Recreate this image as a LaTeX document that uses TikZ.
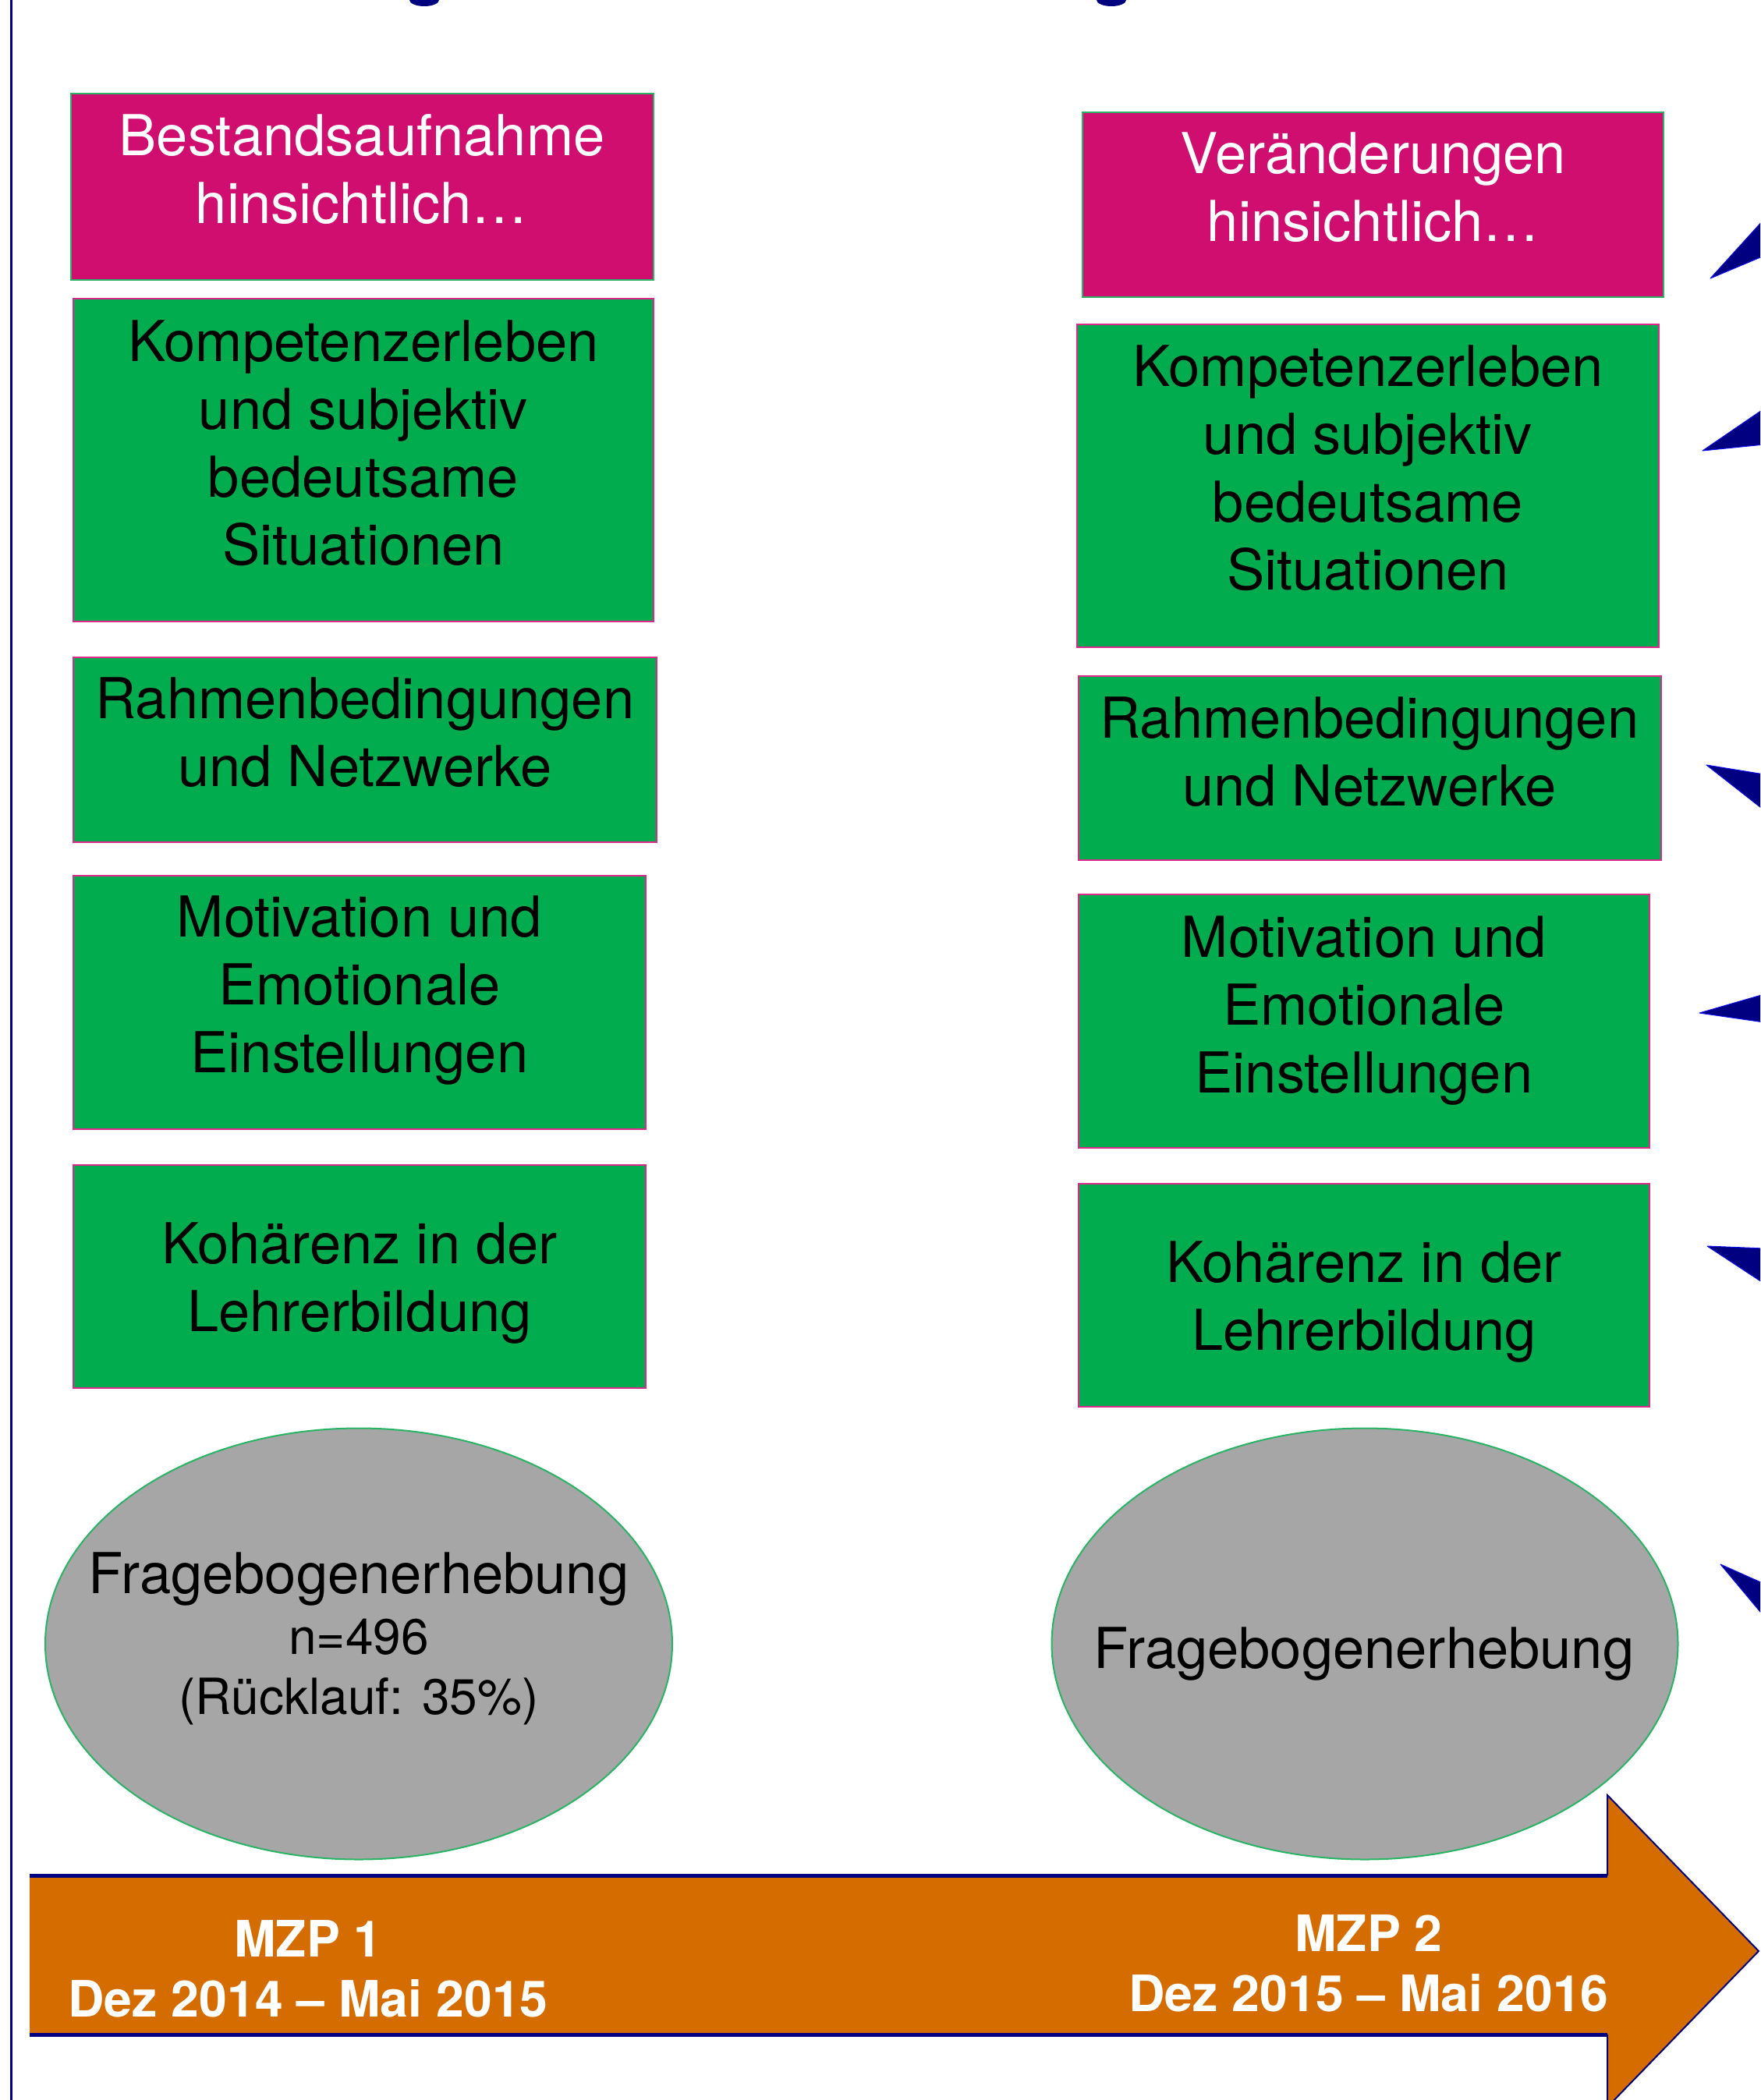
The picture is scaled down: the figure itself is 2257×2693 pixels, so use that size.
\documentclass[tikz,border=0pt]{standalone}
\usepackage{fontspec}
\setmainfont{TeX Gyre Heros}
\usetikzlibrary{fit,shapes.geometric}

\definecolor{boxmagenta}{RGB}{207,14,111}
\definecolor{boxgreen}{RGB}{0,172,78}
\definecolor{ovalgray}{RGB}{166,166,166}
\definecolor{timeorange}{RGB}{212,108,0}
\definecolor{darknavy}{RGB}{0,0,128}
\definecolor{brightblue}{RGB}{10,10,240}
\definecolor{edgegreen}{RGB}{40,180,100}
\definecolor{edgepink}{RGB}{220,40,140}

\begin{document}
\begin{tikzpicture}[x=0.3pt,y=-0.3pt,
  magbox/.style={fill=boxmagenta,draw=edgegreen,line width=0.6pt,inner sep=0pt},
  grnbox/.style={fill=boxgreen,draw=edgepink,line width=0.6pt,inner sep=0pt},
  oval/.style={ellipse,fill=ovalgray,draw=edgegreen,line width=0.6pt,inner sep=0pt},
  boxtext/.style={align=center,inner sep=0pt,font=\fontsize{21.7}{26.1}\selectfont},
  smalltext/.style={align=center,inner sep=0pt,font=\fontsize{19.2}{23.1}\selectfont},
  mzptext/.style={align=center,inner sep=0pt,text=white,font=\bfseries\fontsize{19.3}{23.1}\selectfont},
  wedge/.style={fill=darknavy,draw=brightblue,line width=0.3pt,line join=round}]
  \useasboundingbox (0,0) rectangle (2257,2693);
  \clip (0,0) rectangle (2257,2693);

  % cut-off title and page edge
  \fill[darknavy] (544,0) ellipse [x radius=19, y radius=8];
  \fill[darknavy] (1425,0) ellipse [x radius=19, y radius=8];
  \draw[darknavy,line width=0.9pt] (14,0) -- (14,2693);

  % timeline arrow
  \fill[timeorange] (38,2405) -- (2061,2405) -- (2061,2302) -- (2255,2502)
    -- (2061,2702) -- (2061,2609) -- (38,2609) -- cycle;
  \draw[darknavy,line width=1.5pt] (38,2405) -- (2061,2405);
  \draw[darknavy,line width=1.5pt] (38,2609) -- (2061,2609);
  \draw[darknavy,line width=0.6pt] (2061,2405) -- (2061,2302) -- (2255,2502)
    -- (2061,2702) -- (2061,2609);
  \node[mzptext] (mzp1) at (395,2486) {MZP 1};
  \node[mzptext] (zeit1) at (395,2563) {Dez 2014 – Mai 2015};
  \node[mzptext] (mzp2) at (1755,2479) {MZP 2};
  \node[mzptext] (zeit2) at (1755,2556) {Dez 2015 – Mai 2016};

  % left column: MZP 1
  \node[magbox,fit={(91,120) (838,359)}] (lmag) {};
  \node[boxtext,text=white] (lmagt) at (464,217) {Bestandsaufnahme\\hinsichtlich…};
  \node[grnbox,fit={(94,383) (838,797)}] (lkomp) {};
  \node[boxtext] (lkompt) at (466,568) {Kompetenzerleben\\und subjektiv\\bedeutsame\\Situationen};
  \node[grnbox,fit={(94,843) (842,1080)}] (lrahm) {};
  \node[boxtext] (lrahmt) at (468,939) {Rahmenbedingungen\\und Netzwerke};
  \node[grnbox,fit={(94,1123) (828,1448)}] (lmot) {};
  \node[boxtext] (lmott) at (461,1270) {Motivation und\\Emotionale\\Einstellungen};
  \node[grnbox,fit={(94,1494) (828,1780)}] (lkoh) {};
  \node[boxtext] (lkoht) at (461,1645) {Kohärenz in der\\Lehrerbildung};
  \node[oval,minimum width=241.2pt,minimum height=165.9pt] (lfrage) at (460,2108) {};
  \node[boxtext] (lfraget) at (460,2025) {Fragebogenerhebung};
  \node[smalltext] (lfragen) at (460,2144) {n=496\\(Rücklauf: 35\%)};

  % right column: MZP 2
  \node[magbox,fit={(1388,144) (2133,381)}] (rmag) {};
  \node[boxtext,text=white] (rmagt) at (1761,240) {Veränderungen\\hinsichtlich…};
  \node[grnbox,fit={(1381,416) (2127,830)}] (rkomp) {};
  \node[boxtext] (rkompt) at (1754,600) {Kompetenzerleben\\und subjektiv\\bedeutsame\\Situationen};
  \node[grnbox,fit={(1383,867) (2130,1103)}] (rrahm) {};
  \node[boxtext] (rrahmt) at (1756,964) {Rahmenbedingungen\\und Netzwerke};
  \node[grnbox,fit={(1383,1147) (2115,1472)}] (rmot) {};
  \node[boxtext] (rmott) at (1749,1296) {Motivation und\\Emotionale\\Einstellungen};
  \node[grnbox,fit={(1383,1518) (2115,1804)}] (rkoh) {};
  \node[boxtext] (rkoht) at (1749,1669) {Kohärenz in der\\Lehrerbildung};
  \node[oval,minimum width=240.9pt,minimum height=165.9pt] (rfrage) at (1750,2108) {};
  \node[boxtext] (rfraget) at (1749,2121) {Fragebogenerhebung};

  % arrow tips coming in from the right
  \fill[wedge] (2193,357) -- (2262,281) -- (2262,328) -- cycle;
  \fill[wedge] (2183,578) -- (2262,524) -- (2262,570) -- cycle;
  \fill[wedge] (2188,981) -- (2262,993) -- (2262,1039) -- cycle;
  \fill[wedge] (2179,1299) -- (2262,1275) -- (2262,1311) -- cycle;
  \fill[wedge] (2189,1598) -- (2262,1601) -- (2262,1646) -- cycle;
  \fill[wedge] (2206,2006) -- (2262,2031) -- (2262,2073) -- cycle;
\end{tikzpicture}
\end{document}
